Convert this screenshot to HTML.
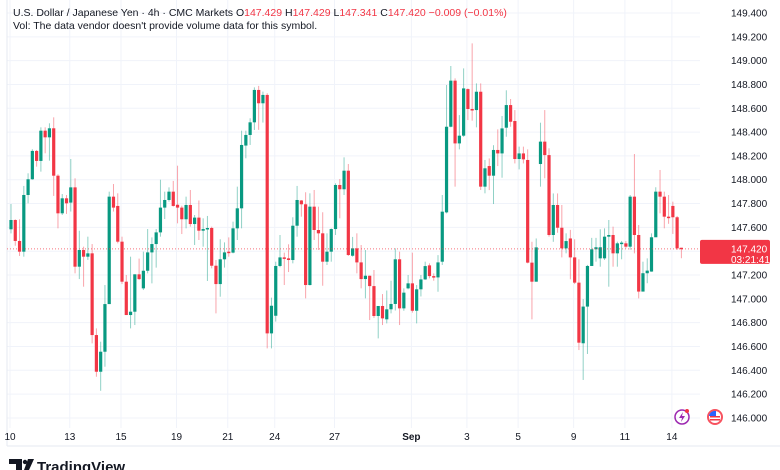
<!DOCTYPE html>
<html><head><meta charset="utf-8"><style>
body{margin:0;background:#fff;width:780px;height:470px;overflow:hidden;font-family:"Liberation Sans",sans-serif}
svg{display:block}
</style></head><body>
<svg id="chart" width="780" height="470">
<g id="grid"></g>
<line x1="7" y1="0" x2="7" y2="446" stroke="#e6e9f0"/>
<line x1="7" y1="446" x2="780" y2="446" stroke="#e6e9f0"/>
<g id="candles"></g>
<g id="yaxis"></g>
<g id="xaxis"></g>
<text x="13" y="16" font-size="10.5" fill="#131722">U.S. Dollar / Japanese Yen · 4h · CMC Markets <tspan>O</tspan><tspan fill="#f23645">147.429</tspan> <tspan>H</tspan><tspan fill="#f23645">147.429</tspan> <tspan>L</tspan><tspan fill="#f23645">147.341</tspan> <tspan>C</tspan><tspan fill="#f23645">147.420 −0.009 (−0.01%)</tspan></text>
<text x="13" y="29" font-size="10.5" fill="#131722">Vol: The data vendor doesn't provide volume data for this symbol.</text>
<g><circle cx="682" cy="417" r="7" fill="none" stroke="#9c27b0" stroke-width="1.5"/><path d="M683 412 L679 418 L682 418 L681 422 L685 416 L682 416 Z" fill="#9c27b0"/><circle cx="687" cy="411" r="2" fill="#f23645"/></g>
<g><circle cx="715" cy="417" r="8" fill="#f7525f"/><circle cx="715" cy="417" r="6" fill="#fff"/><rect x="710" y="416" width="10" height="1.5" fill="#f23645"/><rect x="710" y="419" width="10" height="1.5" fill="#f23645"/><path d="M709 416 A6 6 0 0 1 716 411 L716 416 Z" fill="#2962ff"/></g>
<g><path d="M9 459 H22 V470 H16 V464 H9 Z" fill="#131722"/><circle cx="25" cy="462" r="2.2" fill="#131722"/><path d="M28 459 H34 L29 470 H24 Z" fill="#131722"/><text x="37" y="472" font-size="15" font-weight="bold" fill="#131722">TradingView</text></g>
</svg>
<script>
const opens=[
147.584,147.662,147.486,147.396,147.872,148.004,148.242,148.158,148.412,148.356,
148.432,148.034,147.718,147.844,147.808,147.936,147.27,147.41,147.354,147.382,
146.696,146.388,146.556,146.956,147.858,147.78,147.48,147.144,146.864,146.892,
147.206,147.088,147.236,147.39,147.46,147.558,147.766,147.83,147.9,147.79,
147.766,147.668,147.788,147.628,147.682,147.572,147.586,147.595,147.278,147.124,
147.332,147.396,147.388,147.592,147.76,148.287,148.376,148.482,148.754,148.642,
148.712,146.71,146.858,147.276,147.348,147.34,147.326,147.614,147.826,147.794,
147.116,147.774,147.578,147.55,147.312,147.396,147.586,147.956,147.92,148.076,
147.362,147.424,147.306,147.166,147.194,147.107,146.856,146.94,146.828,146.912,
146.957,147.332,146.92,147.088,147.13,146.9,147.08,147.163,147.281,147.191,
147.18,147.312,147.726,148.445,148.832,148.305,148.37,148.761,148.594,148.585,
148.739,147.942,148.115,148.034,148.25,148.221,148.437,148.627,148.493,148.174,
148.221,148.166,147.304,147.144,148.132,148.32,148.207,147.536,147.788,147.597,
147.424,147.507,147.348,147.136,146.627,146.935,147.276,147.416,147.34,147.34,
147.522,147.536,147.382,147.466,147.466,147.438,147.858,147.536,147.061,147.215,
147.229,147.517,147.9,147.858,147.69,147.78,147.685,147.429];
const closes=[
147.662,147.486,147.396,147.872,148.004,148.242,148.158,148.412,148.356,148.432,
148.034,147.718,147.844,147.802,147.936,147.27,147.41,147.354,147.382,146.696,
146.388,146.556,146.956,147.858,147.766,147.48,147.144,146.864,146.892,147.206,
147.166,147.236,147.39,147.46,147.558,147.766,147.83,147.9,147.78,147.766,
147.668,147.788,147.628,147.682,147.572,147.586,147.595,147.278,147.124,147.332,
147.39,147.388,147.592,147.76,148.292,148.376,148.482,148.754,148.642,148.712,
146.71,146.942,147.276,147.348,147.34,147.326,147.614,147.83,147.794,147.116,
147.774,147.578,147.55,147.312,147.396,147.586,147.956,147.92,148.076,147.368,
147.424,147.306,147.166,147.194,147.107,146.856,146.94,146.836,146.912,146.957,
147.332,146.92,147.052,147.13,146.9,147.08,147.163,147.275,147.191,147.18,
147.306,147.732,148.445,148.832,148.305,148.37,148.767,148.594,148.585,148.739,
147.942,148.096,148.034,148.25,148.221,148.431,148.627,148.487,148.174,148.221,
148.171,147.304,147.144,147.432,148.32,148.207,147.536,147.788,147.597,147.424,
147.485,147.348,147.136,146.632,146.935,147.276,147.416,147.433,147.433,147.522,
147.536,147.382,147.466,147.472,147.438,147.858,147.536,147.061,147.215,147.237,
147.517,147.9,147.858,147.69,147.685,147.685,147.424,147.42];
const highs=[
147.796,147.668,147.668,147.948,148.054,148.256,148.25,148.44,148.44,148.474,
148.524,148.046,147.88,147.872,148.174,148.012,147.572,147.438,147.522,147.46,
146.752,146.64,147.116,147.9,147.964,147.886,147.522,147.2,147.354,147.206,
147.338,147.396,147.586,147.516,147.586,148.0,147.9,147.936,147.99,148.118,
147.782,147.858,147.914,147.704,147.826,147.676,147.696,147.606,147.326,147.5,
147.474,147.516,147.648,147.942,148.412,148.412,148.516,148.776,148.788,148.74,
148.726,147.01,147.312,147.536,147.388,147.458,147.685,147.948,147.83,147.895,
147.886,147.914,147.774,147.727,147.55,147.592,147.97,148.006,148.188,148.132,
147.52,147.55,147.452,147.41,147.195,147.242,146.94,147.04,147.07,147.152,
147.424,147.396,147.088,147.2,147.388,147.116,147.2,147.312,147.298,147.214,
147.367,147.872,148.795,148.955,148.851,148.543,148.935,148.767,149.145,148.809,
148.809,148.166,148.179,148.29,148.423,148.535,148.751,148.678,148.585,148.278,
148.278,148.255,147.479,147.507,148.479,148.585,148.264,147.885,147.885,147.788,
147.55,147.579,147.5,147.332,146.998,147.285,147.512,147.512,147.584,147.592,
147.662,147.606,147.48,147.486,147.486,147.872,148.216,147.62,147.312,147.34,
147.55,147.937,148.082,147.9,147.872,147.816,147.696,147.429];
const lows=[
147.55,147.446,147.36,147.354,147.802,148.0,148.11,148.068,148.222,148.16,
147.864,147.592,147.704,147.713,147.733,147.214,147.166,147.102,147.327,146.626,
146.346,146.228,146.43,146.956,147.733,147.466,147.124,146.864,146.752,146.78,
147.158,147.074,147.214,147.13,147.262,147.522,147.67,147.816,147.774,147.634,
147.544,147.592,147.606,147.452,147.494,147.438,147.15,147.256,146.878,147.018,
147.262,147.354,147.382,147.494,147.592,148.18,148.292,148.418,148.419,148.48,
146.584,146.584,146.809,147.265,147.116,147.225,147.298,147.522,147.69,147.004,
147.112,147.494,147.41,147.11,147.284,147.312,147.536,147.676,147.872,147.36,
147.354,147.214,147.088,147.004,146.822,146.84,146.668,146.78,146.794,146.878,
146.902,146.78,146.9,147.08,146.884,146.794,147.02,147.16,147.172,147.152,
147.06,147.284,147.718,148.44,147.942,148.255,148.36,148.501,148.496,148.44,
147.914,147.886,147.913,147.796,148.115,148.017,148.361,148.445,148.137,148.087,
148.137,147.298,146.828,147.144,147.942,148.012,147.522,147.479,147.555,147.348,
147.382,147.164,147.124,146.57,146.319,146.537,147.284,147.312,147.27,147.326,
147.102,147.27,147.27,147.332,147.424,147.412,147.382,147.004,147.061,147.131,
147.227,147.519,147.718,147.592,147.63,147.545,147.41,147.341];
const priceTicks=[146.0,146.2,146.4,146.6,146.8,147.0,147.2,147.4,147.6,147.8,148.0,148.2,148.4,148.6,148.8,149.0,149.2,149.4];
const timeLabels=["10","13","15","19","21","24","27","Sep","3","5","9","11","14"];
const timeLabelIdx=[0,14,26,39,51,62,76,94,107,119,132,144,155];
const lastPrice=147.420;

const NS="http://www.w3.org/2000/svg";
function y(p){return 13+(149.4-p)/0.2*23.82;}
function x(i){return 11+i*4.27;}
function mk(tag,attrs,parent){const e=document.createElementNS(NS,tag);for(const k in attrs)e.setAttribute(k,attrs[k]);parent.appendChild(e);return e;}
const grid=document.getElementById('grid'),cg=document.getElementById('candles'),ya=document.getElementById('yaxis'),xa=document.getElementById('xaxis');
priceTicks.forEach(p=>{
  const l=mk('line',{x1:7,x2:700,y1:y(p),y2:y(p),stroke:'#f0f3fa'},grid);
  
  
  const t=mk('text',{x:731,y:y(p)+3.5,'font-size':10,fill:'#131722'},ya);
  t.textContent=p.toFixed(3);
  
  
});
timeLabels.forEach((s,k)=>{
  const xx=x(timeLabelIdx[k])-1;
  const l=mk('line',{x1:xx,x2:xx,y1:0,y2:428,stroke:'#f0f3fa'},grid);
  
  
  const t=mk('text',{x:xx,y:440,'font-size':10,fill:'#131722','text-anchor':'middle','font-weight':s==='Sep'?'bold':'normal'},xa);
  t.textContent=s;
  
  
});
for(let i=0;i<opens.length;i++){
  const up=closes[i]>=opens[i];const col=up?'#089981':'#f23645';const cx=x(i);
  const w=mk('line',{x1:cx,x2:cx,y1:y(highs[i]),y2:y(lows[i]),stroke:col,'stroke-opacity':0.45,'stroke-width':1},cg);
  
  
  const top=y(Math.max(opens[i],closes[i])),bot=y(Math.min(opens[i],closes[i]));
  const b=mk('rect',{x:cx-1.6,y:top,width:3.2,height:Math.max(1.5,bot-top),fill:col},cg);
  
  
}
const ly=y(lastPrice);
const pl=mk('line',{x1:7,x2:700,y1:ly,y2:ly,stroke:'#f23645','stroke-dasharray':'1 2','stroke-opacity':0.7},cg);


const lb=mk('rect',{x:700,y:ly-9,width:70,height:24,fill:'#f23645',rx:2},ya);


const t1=mk('text',{x:731,y:ly+3.5,'font-size':10,fill:'#fff'},ya);t1.textContent=lastPrice.toFixed(3);


const t2=mk('text',{x:731,y:ly+14,'font-size':10,fill:'#fff'},ya);t2.textContent='03:21:41';


</script>
</body></html>
